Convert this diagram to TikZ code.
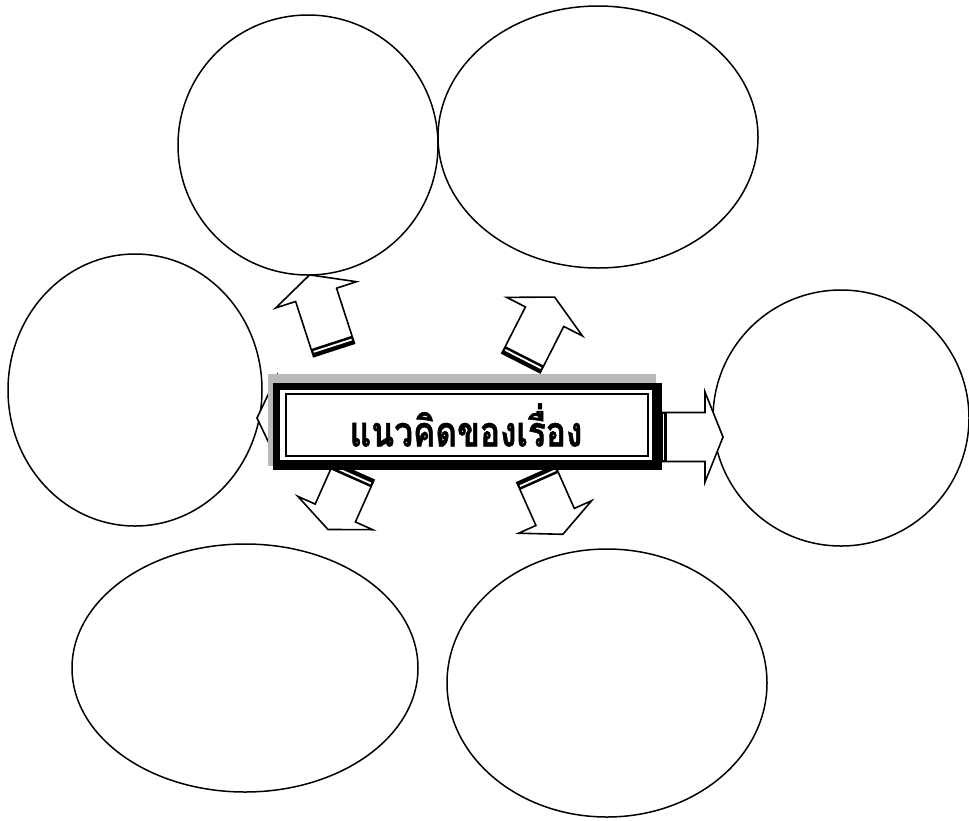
\documentclass[tikz,border=0pt]{standalone}
\usepackage{fontspec}
\newfontfamily\thaifont[Script=Thai, BoldFeatures={FakeBold=1.2}]{Loma}
\newcommand{\blockarr}[7]{%
\begin{scope}[shift={(#1,#2)}, rotate=#3]
\draw[arrowline] (0,-#6) -- ({#4-#5},-#6) -- ({#4-#5},-#7) -- (#4,0) -- ({#4-#5},#7) -- ({#4-#5},#6) -- (0,#6) -- cycle;
\fill[black] (0,-#6) rectangle (8,#6);
\draw[white, line width=1.8pt] (4.5,{-#6+1.5}) -- (4.5,{#6-1.5});
\end{scope}}
\begin{document}
\begin{tikzpicture}[x=1pt,y=-1pt,
  ell/.style={draw=black, line width=1.5pt, ellipse, inner sep=0pt},
  arrowline/.style={draw=black, fill=white, line width=1.6pt, line join=miter},
  title/.style={font=\thaifont\bfseries\fontsize{31}{38}\selectfont, inner sep=0pt}]
\useasboundingbox (0,0) rectangle (969,820);
\usetikzlibrary{shapes.geometric}
% ellipses
\node[ell, minimum width=260, minimum height=260] (e1) at (308,145) {};
\node[ell, minimum width=320, minimum height=262] (e2) at (598,137) {};
\node[ell, minimum width=254, minimum height=272] (e3) at (135,390) {};
\node[ell, minimum width=256, minimum height=256] (e4) at (841,418) {};
\node[ell, minimum width=346, minimum height=248] (e5) at (245,668) {};
\node[ell, minimum width=320, minimum height=268] (e6) at (607,683) {};
% arrows
\blockarr{340}{418}{180}{83}{20}{22}{42}
\blockarr{334}{350}{108}{79}{21}{21.5}{42.5}
\blockarr{521}{363}{63}{74}{22}{21.5}{42.5}
\blockarr{354}{471}{246}{64}{18}{22}{41}
\blockarr{536}{474}{-66}{66}{19}{21}{40}
\blockarr{659}{437}{0}{64}{18}{24.5}{45}
% central box
\fill[gray!55] (268,374) rectangle (656,466);
\fill[black] (273,383) rectangle (662,470);
\fill[white] (280,390) rectangle (652,460);
\draw[line width=1.2pt] (286,394) rectangle (648,456);
\node[title] (box) at (466,425) {\scalebox{1.08}[1.35]{แนวคิดของเรื่อง}};
\end{tikzpicture}
\end{document}
